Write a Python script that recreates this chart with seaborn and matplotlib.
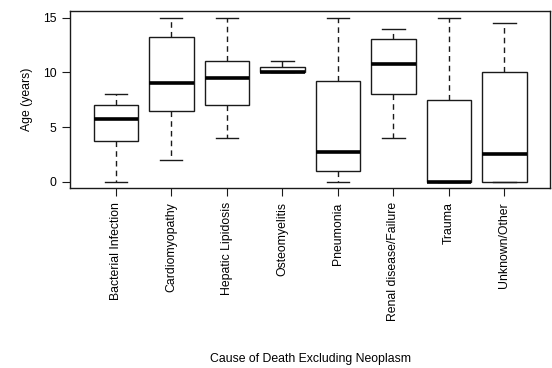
import matplotlib
matplotlib.use("Agg")
import matplotlib.pyplot as plt
import seaborn as sns
import pandas as pd

categories = ["Bacterial Infection", "Cardiomyopathy", "Hepatic Lipidosis", "Osteomyelitis",
              "Pneumonia", "Renal disease/Failure", "Trauma", "Unknown/Other"]
# five-number summaries: min, Q1, median, Q3, max
bacterial = [0, 3.75, 5.75, 7.0, 8.0]
cardio = [2.0, 6.5, 9.0, 13.25, 15.0]
hepatic = [4.0, 7.0, 9.5, 11.0, 15.0]
osteo = [10.0, 10.0, 10.0, 10.5, 11.0]
pneumonia = [0.0, 1.0, 2.75, 9.25, 15.0]
renal = [4.0, 8.0, 10.75, 13.0, 14.0]
trauma = [0.0, 0.0, 0.0, 7.5, 15.0]
unknown = [0.0, 0.0, 2.5, 10.0, 14.5]
yticks = [0, 5, 10, 15]

series = [bacterial, cardio, hepatic, osteo, pneumonia, renal, trauma, unknown]
rows = []
for cat, vals in zip(categories, series):
    for v in vals:
        rows.append({"cause": cat, "age": v})
df = pd.DataFrame(rows)

plt.rcParams["font.family"] = ["Liberation Sans", "DejaVu Sans"]
plt.rcParams["font.size"] = 8.8

fig = plt.figure(figsize=(5.52, 3.68), dpi=100)
ax = fig.add_axes([0.1274, 0.4883, 0.869, 0.4817])

lc = "#1a1a1a"
sns.boxplot(data=df, x="cause", y="age", order=categories, ax=ax,
            color="white", linecolor=lc, linewidth=1.0, width=0.8,
            whis=(0, 100), fliersize=0, saturation=1,
            whiskerprops={"linestyle": (0, (4, 3)), "color": lc},
            capprops={"color": lc},
            medianprops={"linewidth": 2.6, "color": "black"})

ax.set_xlim(0.18 - 1, 8.82 - 1)
ax.set_ylim(-0.6, 15.6)
ax.set_yticks(yticks)
ax.set_yticklabels([str(t) for t in yticks])
ax.tick_params(axis="x", rotation=90, length=6, pad=4, color=lc, labelcolor="black")
ax.tick_params(axis="y", length=6, pad=4, color=lc, labelcolor="black")
for s in ax.spines.values():
    s.set_visible(True)
    s.set_color(lc)
    s.set_linewidth(1.0)

ax.set_xlabel("Cause of Death Excluding Neoplasm")
ax.xaxis.set_label_coords(0.5, -0.93)
ax.set_ylabel("Age (years)")
ax.yaxis.set_label_coords(-0.078, 0.5)

fig.savefig("out.png", dpi=100, facecolor="white")
